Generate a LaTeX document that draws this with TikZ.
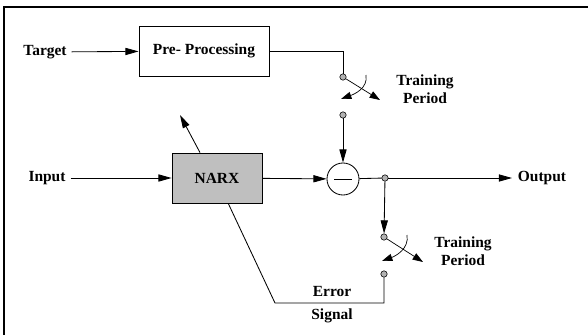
\documentclass[tikz,border=0pt]{standalone}
\usepackage{fontspec}
\setmainfont{Liberation Serif}
\usepackage{tikz}
\usetikzlibrary{arrows.meta}

\begin{document}
\begin{tikzpicture}[
            x=0.025cm, y=-0.025cm,
            >={Triangle[length=3.3mm, width=1.8mm]},
            line width=0.6pt,
            font=\fontsize{11}{13}\selectfont\bfseries,
            block/.style={draw, minimum height=1.25cm, inner sep=0pt},
            contact/.style={circle, draw, fill=gray!60, minimum size=1.6mm, inner sep=0pt, line width=0.4pt},
            lever/.style={->, >={Triangle[length=2.6mm, width=1.8mm]}, line width=0.5pt}
        ]
            \useasboundingbox (0,0) rectangle (588,335);
            % frame (top and left edges only)
            \draw[line width=1pt] (588,7) -- (4,7) -- (4,335);

            \node (target) at (45,52) {Target};
            \node[block, minimum width=3.25cm] (pre) at (204,51) {Pre- Processing};
            \node (input) at (47,178) {Input};
            \node[block, fill=gray!50, minimum width=2.25cm] (narx) at (217,178) {NARX};
            \node[circle, draw, minimum size=0.8cm, inner sep=0pt] (sum) at (343,179) {};
            \draw (sum.center) ++(-9,0) -- ++(18,0);
            \node (output) at (542,178) {Output};

            \node[contact] (s1a) at (343,77) {};
            \node[contact] (s1b) at (343,115) {};
            \node[contact] (j) at (385,178) {};
            \node[contact] (s2a) at (384,237) {};
            \node[contact] (s2b) at (384,274) {};

            \node[align=center, inner sep=0pt] (tp1) at (425,89) {Training\\Period};
            \node[align=center, inner sep=0pt] (tp2) at (463,251) {Training\\Period};
            \node (err) at (332,292) {Error};
            \node (sig) at (332,316) {Signal};

            \coordinate (w1) at (380,100);
            \coordinate (w2) at (423,262);
            \coordinate (adapt) at (180,115);
            \coordinate (outend) at (512,178);
            \coordinate (e1) at (384,303);
            \coordinate (e2) at (275,303);

            \draw[->] (target) -- (pre);
            \draw (pre.east) -| (s1a);
            \draw[lever] (s1a) -- (w1);
            \draw[lever] (366,75) to[out=-80, in=20] (341,99);
            \draw[->] (s1b) -- (sum);

            \draw[->] (input) -- (narx);
            \draw[->] (narx) -- (sum);
            \draw[->] (narx.north) ++(-17,0) -- (adapt);
            \draw (sum) -- (j);
            \draw[->] (j) -- (outend);

            \draw[->] (j) -- (s2a);
            \draw[lever] (s2a) -- (w2);
            \draw[lever] (407,235) to[out=-80, in=20] (382,261);
            \draw (s2b) -- (e1) -- (e2) -- ([xshift=8]narx.south);
        \end{tikzpicture}
\end{document}
